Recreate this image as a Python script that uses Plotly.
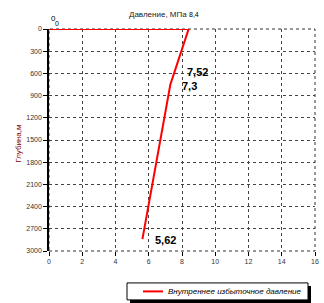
import plotly.graph_objects as go

pressure = [0, 8.4, 7.52, 7.3, 5.62]
depth = [0, 0, 600, 750, 2840]
point_labels = ["0", "8,4", "7,52", "7,3", "5,62"]
series_name = "Внутреннее избыточное давление"
x_title = "Давление, МПа"
y_title = "Глубина,м"
x_ticks = [0, 2, 4, 6, 8, 10, 12, 14, 16]
y_ticks = [0, 300, 600, 900, 1200, 1500, 1800, 2100, 2400, 2700, 3000]

FONT = "Liberation Sans, Arial, sans-serif"
RED = "#ff0000"

# plot area in pixels
L, R, T, B = 49, 315, 28.5, 251
W, H = R - L, B - T


def px(x):
    return (x - L) / W


def py(y):
    return (B - y) / H


fig = go.Figure()
fig.add_trace(go.Scatter(
    x=pressure, y=depth, mode="lines", name=series_name,
    line=dict(color=RED, width=2), showlegend=False,
))

label_style = [
    dict(xshift=4, yshift=11, size=8, bold=False),
    dict(xshift=5, yshift=15, size=7, bold=False),
    dict(xshift=23, yshift=1, size=11, bold=True),
    dict(xshift=19, yshift=-1, size=11, bold=True),
    dict(xshift=23, yshift=-1, size=11, bold=True),
]
annotations = []
for xv, yv, lab, st in zip(pressure, depth, point_labels, label_style):
    annotations.append(dict(
        x=xv, y=yv, xref="x", yref="y", text=("<b>%s</b>" % lab) if st["bold"] else lab,
        showarrow=False, xshift=st["xshift"], yshift=st["yshift"],
        font=dict(family=FONT, size=st["size"], color="#000000"),
    ))
annotations.append(dict(x=pressure[0], y=depth[0], xref="x", yref="y", text=point_labels[0],
                        showarrow=False, xshift=8, yshift=6,
                        font=dict(family=FONT, size=7, color="#000000")))
annotations.append(dict(x=px(158), y=py(7), xref="paper", yref="paper",
                        text=x_title, showarrow=False,
                        font=dict(family=FONT, size=8, color="#222222")))
annotations.append(dict(x=px(12), y=py(144), xref="paper", yref="paper",
                        text=y_title, showarrow=False, textangle=-90,
                        font=dict(family=FONT, size=8, color="#800000")))
# legend text
annotations.append(dict(x=px(166), y=py(291.5), xref="paper", yref="paper",
                        xanchor="left", yanchor="middle",
                        text="<i>" + series_name + "</i>", showarrow=False,
                        font=dict(family=FONT, size=8, color="#000000")))

shapes = [
    dict(type="rect", xref="paper", yref="paper", x0=0, y0=0, x1=1, y1=1,
         line=dict(color="#333333", width=1, dash="dot"), layer="below"),
    # legend shadow
    dict(type="rect", xref="paper", yref="paper",
         x0=px(130), x1=px(311), y0=py(303), y1=py(286),
         fillcolor="#000000", line=dict(width=0), layer="above"),
    # legend box
    dict(type="rect", xref="paper", yref="paper",
         x0=px(127), x1=px(308), y0=py(300), y1=py(283),
         fillcolor="white", line=dict(color="#000000", width=1), layer="above"),
    # legend line sample
    dict(type="line", xref="paper", yref="paper",
         x0=px(143), x1=px(163), y0=py(291.5), y1=py(291.5),
         line=dict(color=RED, width=2), layer="above"),
]

axis_common = dict(
    showgrid=True, gridcolor="#444444", griddash="dot", gridwidth=1,
    zeroline=False, ticks="outside", ticklen=4, tickcolor="#000000",
    tickfont=dict(family=FONT, size=7, color="#333333"),
)

fig.update_layout(
    width=324, height=303,
    margin=dict(l=L, r=324 - R, t=T, b=303 - B, autoexpand=False),
    paper_bgcolor="white", plot_bgcolor="white",
    xaxis=dict(range=[0, 16], tickvals=x_ticks, showline=False, **axis_common),
    yaxis=dict(range=[3000, 0], tickvals=y_ticks, showline=True, linecolor="#000000",
               linewidth=1.5, **axis_common),
    showlegend=False,
    annotations=annotations,
    shapes=shapes,
)

fig.write_html("out.html")
